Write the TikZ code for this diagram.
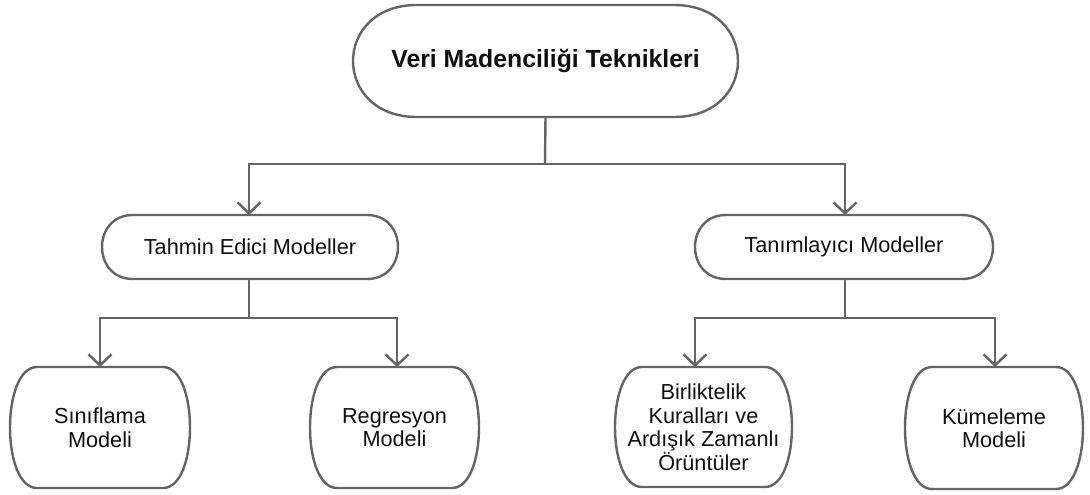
\documentclass[tikz,border=0pt]{standalone}
\usepackage{fontspec}
\setmainfont{Liberation Sans}
\usetikzlibrary{arrows.meta}
\definecolor{linegray}{RGB}{100,100,100}
\definecolor{txt}{RGB}{15,15,15}
\tikzset{
  box/.style={shape=rectangle, draw=none, inner sep=0pt, outer sep=0pt, align=center, text=txt,
    font=\fontsize{21.7}{23.5}\selectfont},
  titlebox/.style={box, font=\bfseries\fontsize{24.8}{28}\selectfont},
  outline/.style={draw=linegray, line width=2.4pt, fill=white},
  conn/.style={draw=linegray, line width=2.4pt},
  arr/.style={conn, -{Straight Barb[length=11pt,width=23pt]}},
}
\newcommand{\bulgebox}[2]{%
  \draw[outline] ([xshift=#2 pt]#1.north west) -- ([xshift=-#2 pt]#1.north east)
    .. controls ([xshift=#2/3 pt]#1.north east) and ([xshift=#2/3 pt]#1.south east) .. ([xshift=-#2 pt]#1.south east)
    -- ([xshift=#2 pt]#1.south west)
    .. controls ([xshift=-#2/3 pt]#1.south west) and ([xshift=-#2/3 pt]#1.north west) .. cycle;
}
\begin{document}
\begin{tikzpicture}[x=1pt,y=-1pt]
\useasboundingbox (0,0) rectangle (1090,495);
% nodes (geometry only)
\node[titlebox, minimum width=385pt, minimum height=112pt] (top) at (545.5,61) {};
\node[box, minimum width=296pt, minimum height=64pt] (tah) at (250,247) {};
\node[box, minimum width=298pt, minimum height=64pt] (tan) at (844,247) {};
\node[box, minimum width=180pt, minimum height=121pt] (sin) at (100,427.5) {};
\node[box, minimum width=169pt, minimum height=121pt] (reg) at (394.5,427.5) {};
\node[box, minimum width=177pt, minimum height=120pt] (bir) at (703.5,427) {};
\node[box, minimum width=178pt, minimum height=122pt] (kum) at (994,428) {};
% outlines
\bulgebox{top}{64}
\bulgebox{tah}{31}
\bulgebox{tan}{31}
\bulgebox{sin}{27}
\bulgebox{reg}{27}
\bulgebox{bir}{27}
\bulgebox{kum}{27}
% texts
\node[titlebox] at (top.center) {Veri Madenciliği Teknikleri};
\node[box] at (tah.center) {Tahmin Edici Modeller};
\node[box] at (tan.center) {Tanımlayıcı Modeller};
\node[box] at (sin.center) {Sınıflama\\Modeli};
\node[box] at (reg.center) {Regresyon\\Modeli};
\node[box] at (bir.center) {Birliktelik\\Kuralları ve\\Ardışık Zamanlı\\Örüntüler};
\node[box] at (kum.center) {Kümeleme\\Modeli};
% connectors
\coordinate (j1) at (545,164);
\coordinate (j2) at (249,318);
\coordinate (j3) at (845,318);
\draw[conn] (top.south) -- (j1);
\draw[arr] (j1) -| ([xshift=-1pt]tah.north);
\draw[arr] (j1) -| ([xshift=1pt]tan.north);
\draw[conn] ([xshift=-1pt]tah.south) -- (j2);
\draw[arr] (j2) -| (sin.north);
\draw[arr] (j2) -| ([xshift=2.5pt]reg.north);
\draw[conn] ([xshift=1pt]tan.south) -- (j3);
\draw[arr] (j3) -| ([xshift=-8.5pt]bir.north);
\draw[arr] (j3) -| ([xshift=1pt]kum.north);
\end{tikzpicture}
\end{document}
